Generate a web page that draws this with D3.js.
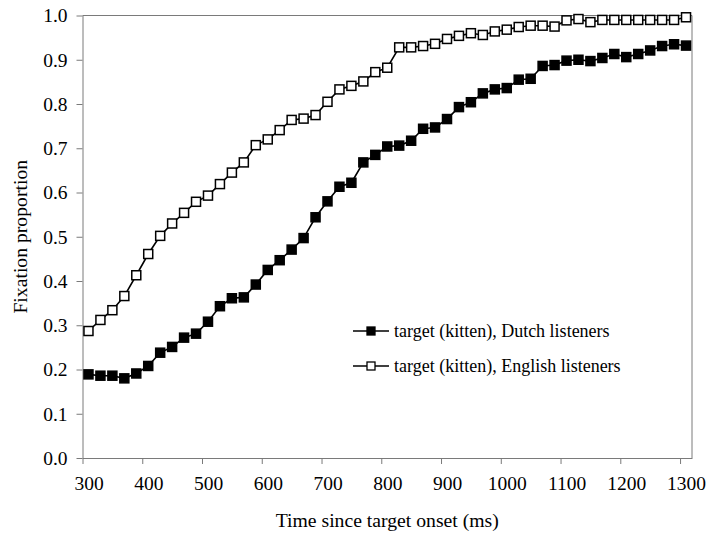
<!DOCTYPE html>
<html>
<head>
<meta charset="utf-8">
<script src="https://cdn.jsdelivr.net/npm/d3@7"></script>
<style>
  body { margin: 0; background: #fff; }
  svg { display: block; }
  text { font-family: "Liberation Serif", "Times New Roman", serif; fill: #000; }
</style>
</head>
<body>
<svg id="chart" width="708" height="536"></svg>
<script>
// time points (ms)
const times = [310, 330, 350, 370, 390, 410, 430, 450, 470, 490,
               510, 530, 550, 570, 590, 610, 630, 650, 670, 690,
               710, 730, 750, 770, 790, 810, 830, 850, 870, 890,
               910, 930, 950, 970, 990, 1010, 1030, 1050, 1070, 1090,
               1110, 1130, 1150, 1170, 1190, 1210, 1230, 1250, 1270, 1290, 1310];

const dutch = [0.189, 0.186, 0.186, 0.180, 0.191, 0.208, 0.238, 0.251, 0.272, 0.281,
               0.308, 0.343, 0.361, 0.363, 0.392, 0.425, 0.447, 0.471, 0.497, 0.544,
               0.580, 0.613, 0.622, 0.668, 0.685, 0.704, 0.706, 0.717, 0.744, 0.747,
               0.766, 0.793, 0.804, 0.824, 0.833, 0.836, 0.855, 0.857, 0.886, 0.888,
               0.898, 0.900, 0.897, 0.904, 0.913, 0.906, 0.913, 0.921, 0.931, 0.935, 0.932];

const english = [0.287, 0.312, 0.334, 0.366, 0.413, 0.461, 0.502, 0.530, 0.554, 0.579,
                 0.593, 0.619, 0.645, 0.668, 0.707, 0.720, 0.741, 0.764, 0.767, 0.775,
                 0.805, 0.833, 0.841, 0.851, 0.872, 0.882, 0.928, 0.928, 0.931, 0.936,
                 0.947, 0.954, 0.960, 0.956, 0.964, 0.968, 0.974, 0.977, 0.977, 0.975,
                 0.989, 0.992, 0.985, 0.990, 0.990, 0.990, 0.990, 0.990, 0.990, 0.990, 0.996];

const xTicks = [300, 400, 500, 600, 700, 800, 900, 1000, 1100, 1200, 1300];
const yTicks = [0, 0.1, 0.2, 0.3, 0.4, 0.5, 0.6, 0.7, 0.8, 0.9, 1.0];

const seriesNames = ["target (kitten), Dutch listeners", "target (kitten), English listeners"];

const margin = {top: 15.5, right: 16, bottom: 78, left: 82.5};
const width = 708 - margin.left - margin.right;
const height = 536 - margin.top - margin.bottom;
const axisColor = "#7a7a7a";

const svg = d3.select("#chart");
const g = svg.append("g").attr("transform", `translate(${margin.left},${margin.top})`);

const xScale = d3.scaleLinear().domain([300, 1320]).range([0, width]);
const yScale = d3.scaleLinear().domain([0, 1]).range([height, 0]);

// frame: top and right
g.append("path")
    .attr("d", `M0,0H${width}V${height}`)
    .attr("fill", "none")
    .attr("stroke", axisColor)
    .attr("stroke-width", 1);

const xAxis = d3.axisBottom(xScale).tickValues(xTicks).tickSize(6).tickSizeOuter(0).tickPadding(12)
    .tickFormat(d3.format("d"));
const yAxis = d3.axisLeft(yScale).tickValues(yTicks).tickSize(6).tickSizeOuter(0).tickPadding(9)
    .tickFormat(d3.format(".1f"));

const gx = g.append("g")
    .attr("transform", `translate(0,${height})`)
    .call(xAxis);
gx.selectAll("text").attr("dx", 6).style("font-size", "19.5px").style("font-family", "Liberation Serif");

const gy = g.append("g").call(yAxis);
gy.selectAll("text").style("font-size", "19.5px").style("font-family", "Liberation Serif");

[gx, gy].forEach(a => {
    a.select(".domain").attr("stroke", axisColor);
    a.selectAll(".tick line").attr("stroke", axisColor);
});

// axis titles
svg.append("text")
    .attr("x", margin.left + xScale(810))
    .attr("y", 527)
    .attr("text-anchor", "middle")
    .style("font-size", "19.7px")
    .text("Time since target onset (ms)");

svg.append("text")
    .attr("transform", `translate(27,${margin.top + height / 2}) rotate(-90)`)
    .attr("text-anchor", "middle")
    .style("font-size", "19.7px")
    .text("Fixation proportion");

const line = d3.line()
    .x((d, i) => xScale(times[i]))
    .y(d => yScale(d));

const series = [
    {name: seriesNames[0], values: dutch, fill: "#000"},
    {name: seriesNames[1], values: english, fill: "#fff"}
];

const ms = 9;

series.forEach(s => {
    g.append("path")
        .attr("d", line(s.values))
        .attr("fill", "none")
        .attr("stroke", "#000")
        .attr("stroke-width", 1.6);

    g.append("g")
        .selectAll("rect")
        .data(s.values)
        .enter()
        .append("rect")
        .attr("x", (d, i) => xScale(times[i]) - ms / 2)
        .attr("y", d => yScale(d) - ms / 2)
        .attr("width", ms)
        .attr("height", ms)
        .attr("fill", s.fill)
        .attr("stroke", "#000")
        .attr("stroke-width", 1.5);
});

// legend
const legend = svg.append("g").attr("transform", "translate(353,331)");
series.forEach((s, i) => {
    const row = legend.append("g").attr("transform", `translate(0,${i * 35})`);
    row.append("line")
        .attr("x1", 0).attr("x2", 36)
        .attr("stroke", "#000").attr("stroke-width", 1.6);
    row.append("rect")
        .attr("x", 18 - 4).attr("y", -4)
        .attr("width", 8).attr("height", 8)
        .attr("fill", s.fill).attr("stroke", "#000").attr("stroke-width", 1.3);
    row.append("text")
        .attr("x", 41)
        .attr("dy", "0.35em")
        .style("font-size", "18px")
        .text(s.name);
});
</script>
</body>
</html>
